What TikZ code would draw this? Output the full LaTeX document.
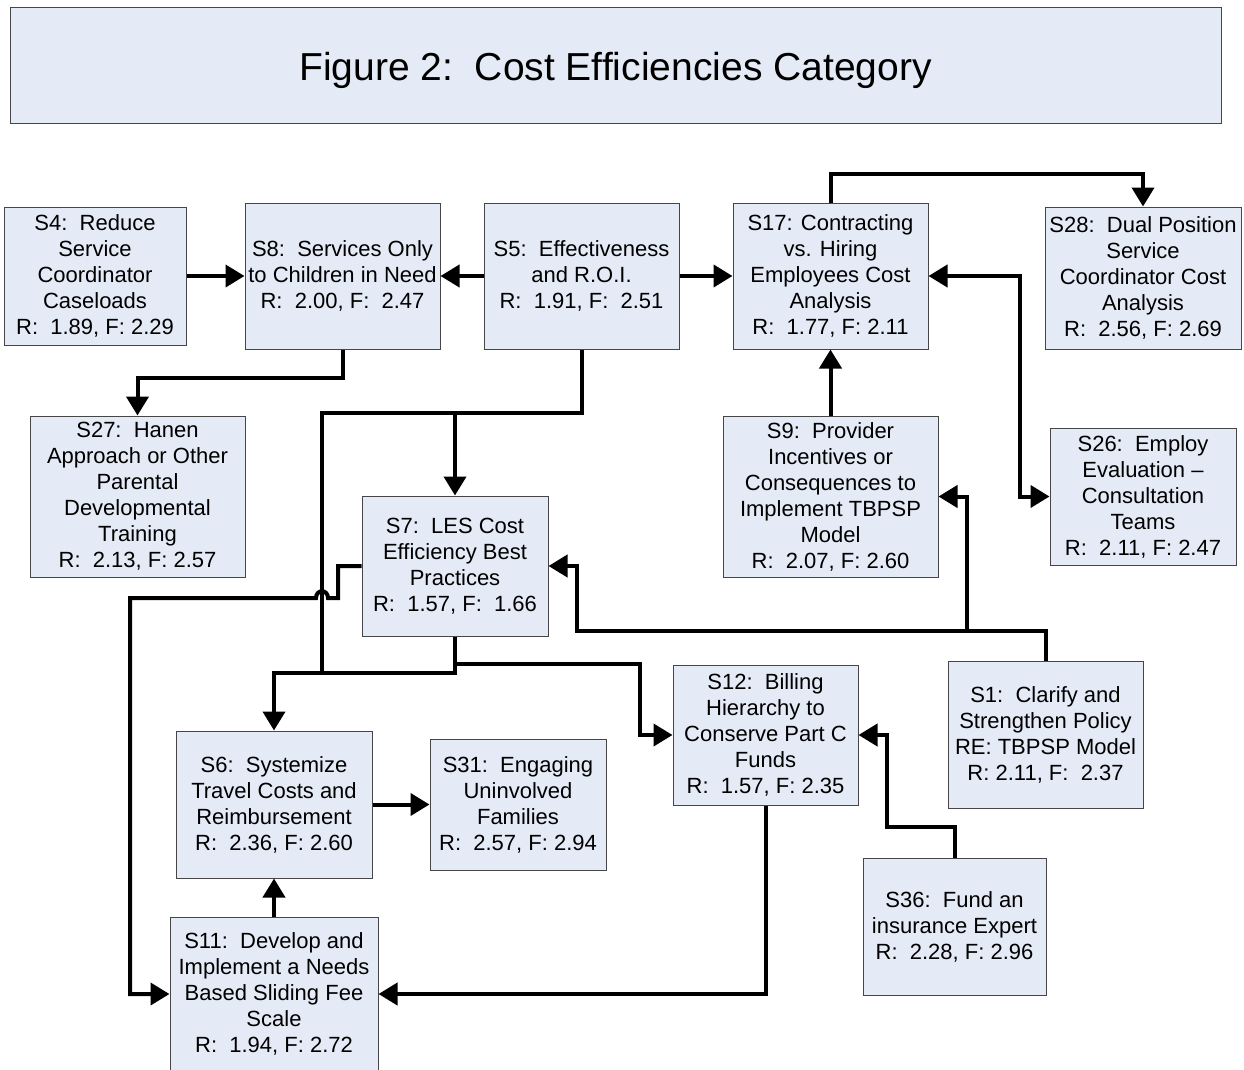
\documentclass[tikz,border=0pt]{standalone}
\usepackage{fontspec}
\setmainfont{Liberation Sans}
\usetikzlibrary{arrows.meta}
\definecolor{boxfill}{RGB}{229,235,246}
\definecolor{boxline}{RGB}{70,70,70}
\begin{document}
\begin{tikzpicture}[x=1pt,y=-1pt,
  box/.style={draw=boxline,line width=1pt,fill=boxfill,align=center,inner sep=0pt,
    font=\fontsize{22}{26}\selectfont},
  conn/.style={line width=4pt},
  arr/.style={conn,-{Triangle[length=19pt,width=22pt]}},
  arrb/.style={conn,{Triangle[length=19pt,width=22pt]}-{Triangle[length=19pt,width=22pt]}}]
\useasboundingbox (0,0) rectangle (1244,1070);

% title
\node[box,minimum width=1211,minimum height=116,font=\fontsize{39}{44}\selectfont,text depth=0pt]
  (title) at (615.5,66) {Figure 2:~~Cost Efficiencies Category};

% boxes
\node[box,minimum width=182,minimum height=138] (S4) at (95,276)
  {S4:~~Reduce\\Service\\Coordinator\\Caseloads\\R:~~1.89, F: 2.29};
\node[box,minimum width=195,minimum height=146] (S8) at (342.5,276)
  {S8:~~Services Only\\to Children in Need\\R:~~2.00, F:~~2.47};
\node[box,minimum width=195,minimum height=146] (S5) at (581.5,276)
  {S5:~~Effectiveness\\and R.O.I.\\R:~~1.91, F:~~2.51};
\node[box,minimum width=195,minimum height=146] (S17) at (830.5,276)
  {S17: Contracting\\vs. Hiring\\Employees Cost\\Analysis\\R:~~1.77, F: 2.11};
\node[box,minimum width=196,minimum height=142] (S28) at (1143,278)
  {S28:~~Dual Position\\Service\\Coordinator Cost\\Analysis\\R:~~2.56, F: 2.69};
\node[box,minimum width=215,minimum height=161] (S27) at (137.5,496.5)
  {S27:~~Hanen\\Approach or Other\\Parental\\Developmental\\Training\\R:~~2.13, F: 2.57};
\node[box,minimum width=215,minimum height=161] (S9) at (830.5,496.5)
  {S9:~~Provider\\Incentives or\\Consequences to\\Implement TBPSP\\Model\\R:~~2.07, F: 2.60};
\node[box,minimum width=186,minimum height=137] (S26) at (1143,496.5)
  {S26:~~Employ\\Evaluation –\\Consultation\\Teams\\R:~~2.11, F: 2.47};
\node[box,minimum width=186,minimum height=140] (S7) at (455,566)
  {S7:~~LES Cost\\Efficiency Best\\Practices\\R:~~1.57, F:~~1.66};
\node[box,minimum width=185,minimum height=140] (S12) at (765.5,735)
  {S12:~~Billing\\Hierarchy to\\Conserve Part C\\Funds\\R:~~1.57, F: 2.35};
\node[box,minimum width=195,minimum height=147] (S1) at (1045.5,734.5)
  {S1:~~Clarify and\\Strengthen Policy\\RE: TBPSP Model\\R: 2.11, F:~~2.37};
\node[box,minimum width=196,minimum height=147] (S6) at (274,804.5)
  {S6:~~Systemize\\Travel Costs and\\Reimbursement\\R:~~2.36, F: 2.60};
\node[box,minimum width=176,minimum height=131] (S31) at (518,804.5)
  {S31:~~Engaging\\Uninvolved\\Families\\R:~~2.57, F: 2.94};
\node[box,minimum width=183,minimum height=137] (S36) at (954.5,926.5)
  {S36:~~Fund an\\insurance Expert\\R:~~2.28, F: 2.96};
\node[box,minimum width=208,minimum height=154] (S11) at (274,994)
  {S11:~~Develop and\\Implement a Needs\\Based Sliding Fee\\Scale\\R:~~1.94, F: 2.72};

% junction points
\coordinate (j5) at (455,413);
\coordinate (j1) at (967,631);

% connectors
\draw[arr] (S4.east) -- (S8.west);
\draw[arr] (S5.west) -- (S8.east);
\draw[arr] (S5.east) -- (S17.west);
\draw[arr] (S17.north) -- (830.5,174) -| (S28.north);
\draw[arr] (S8.south) -- (342.5,378) -| (S27.north);
\draw[conn] (S5.south) |- (322,413) -- (322,673) -- (455,673);
\draw[arr] (j5) -- (S7.north);
\draw[arr] (S7.south) -- (455,673) -| (S6.north);
\draw[arr] (S7.south) -- (455,664) -| (640,735) -- (S12.west);
\draw[arr] (S7.west) -- (338,566) -- (338,598) -- (328,598)
  .. controls (328,589) and (316,589) .. (316,598) -- (130,598) |- (S11.west);
\draw[arr] (S1.north) -- (1045.5,631) -- (577,631) |- (S7.east);
\draw[arr] (j1) |- (S9.east);
\draw[arr] (S9.north) -- (S17.south);
\draw[arrb] (S17.east) -- (1020,276) |- (S26.west);
\draw[arr] (S36.north) -- (954.5,827) -- (887,827) |- (S12.east);
\draw[arr] (S12.south) |- (S11.east);
\draw[arr] (S11.north) -- (S6.south);
\draw[arr] (S6.east) -- (S31.west);
\end{tikzpicture}
\end{document}
